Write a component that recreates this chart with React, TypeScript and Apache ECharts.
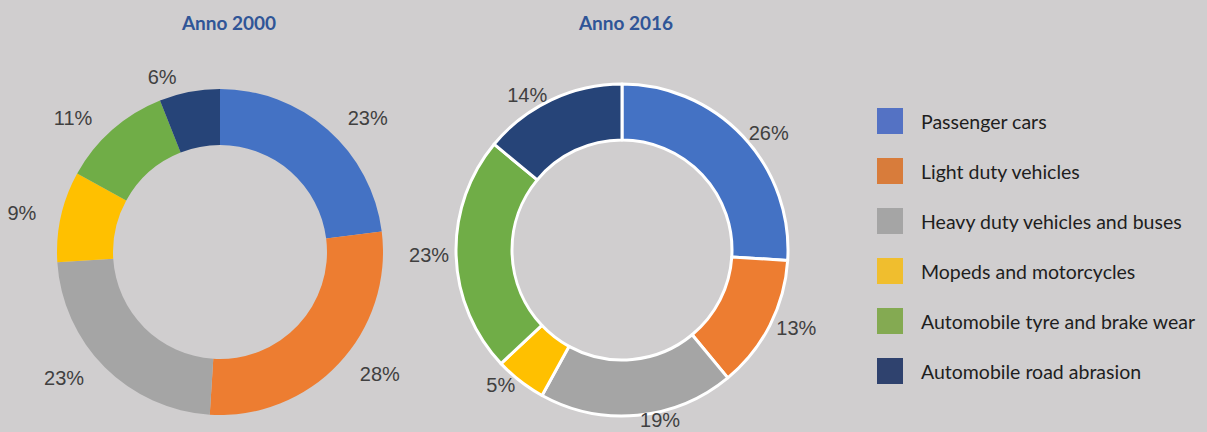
import React, { useEffect, useRef } from "react";
import * as echarts from "echarts";

const categories = [
  "Passenger cars",
  "Light duty vehicles",
  "Heavy duty vehicles and buses",
  "Mopeds and motorcycles",
  "Automobile tyre and brake wear",
  "Automobile road abrasion",
];
const values2000 = [23, 28, 23, 9, 11, 6];
const values2016 = [26, 13, 19, 5, 23, 14];
const titles = ["Anno 2000", "Anno 2016"];

const sliceColors = ["#4472c4", "#ed7d31", "#a5a5a5", "#ffc000", "#70ad47", "#264478"];
const legendColors = ["#5472c4", "#d87c3b", "#a5a5a5", "#f0be2e", "#84aa52", "#2f426e"];

export default function App() {
  const ref = useRef<HTMLDivElement>(null);
  useEffect(() => {
    if (!ref.current) return;
    const chart = echarts.init(ref.current, null, { renderer: "svg" });
    const labelBase = {
      show: true,
      position: "outside",
      formatter: "{c}%",
      color: "#404040",
      fontSize: 20,
      lineHeight: 20,
      fontFamily: "Liberation Sans, Arial, sans-serif",
    };
    const titleStyle = {
      color: "#2f5597",
      fontSize: 19,
      fontWeight: "bold",
      fontFamily: "Lato, sans-serif",
    };
    chart.setOption({
      animation: false,
      backgroundColor: "#d0cecf",
      color: sliceColors,
      title: [
        { text: titles[0], left: 224, top: 8, textAlign: "center", textStyle: titleStyle },
        { text: titles[1], left: 621, top: 8, textAlign: "center", textStyle: titleStyle },
      ],
      legend: {
        orient: "vertical",
        left: 877,
        top: 108,
        padding: 0,
        itemWidth: 26,
        itemHeight: 26,
        itemGap: 24,
        icon: "rect",
        selectedMode: false,
        data: categories.map((name, i) => ({
          name,
          itemStyle: { color: legendColors[i], borderWidth: 0 },
        })),
        textStyle: {
          color: "#1e1e1e",
          fontSize: 19.5,
          fontFamily: "Lato, sans-serif",
          padding: [0, 0, 0, 13],
        },
      },
      series: [
        {
          type: "pie",
          center: [220, 252],
          radius: [107, 163],
          startAngle: 90,
          clockwise: true,
          avoidLabelOverlap: false,
          label: { ...labelBase, distanceToLabelLine: 4 },
          labelLine: { show: false, length: 15, length2: 6 },
          emphasis: { disabled: true },
          data: categories.map((name, i) => ({ name, value: values2000[i] })),
        },
        {
          type: "pie",
          center: [622, 250],
          radius: [110, 166],
          startAngle: 90,
          clockwise: true,
          avoidLabelOverlap: false,
          itemStyle: { borderColor: "#ffffff", borderWidth: 3 },
          label: { ...labelBase, distanceToLabelLine: 2 },
          labelLine: { show: false, length: 5, length2: 0 },
          emphasis: { disabled: true },
          data: categories.map((name, i) => ({ name, value: values2016[i] })),
        },
      ],
    });
    return () => chart.dispose();
  }, []);
  return (
    <div
      ref={ref}
      style={{ position: "fixed", left: 0, top: 0, width: 1207, height: 432 }}
    />
  );
}
